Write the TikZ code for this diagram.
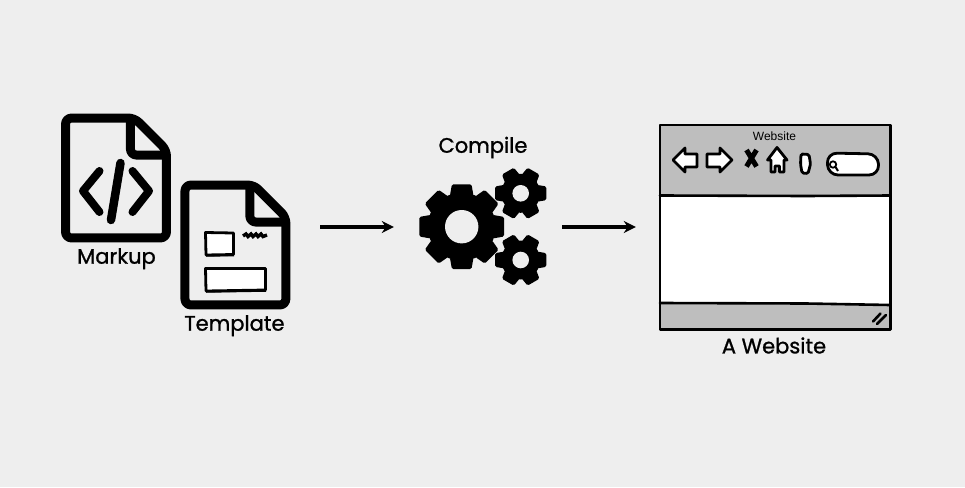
\documentclass[tikz,border=0pt]{standalone}
\usepackage{fontspec}
\setmainfont{Poppins}
\newfontfamily\labelfont[FakeBold=1.1]{Poppins}
\newfontfamily\smallfont{Liberation Sans}
\usetikzlibrary{arrows.meta,positioning}

\definecolor{paper}{HTML}{EEEEEE}
\definecolor{panel}{HTML}{BEBEBE}

\tikzset{
	docbox/.style={minimum width=100.5pt,minimum height=119.5pt,inner sep=0pt},
	docline/.style={line width=9pt,rounded corners=6pt,line join=round},
	caption/.style={inner sep=0pt,font=\labelfont\fontsize{21}{25}\selectfont},
	sketch/.style={line width=2.6pt,line join=round,line cap=round},
	icon/.style={sketch,line width=2.8pt,fill=white},
	flow/.style={->,line width=3.2pt}
}

% outline of a page with a folded corner, on top of a named box
\newcommand{\docicon}[1]{
	\draw[docline] ([xshift=-32pt]#1.north east) -- (#1.north west) -- (#1.south west)
		-- (#1.south east) -- ([yshift=-32pt]#1.north east) -- cycle;
	\draw[docline] ([xshift=-36pt]#1.north east) -- ([xshift=-36pt,yshift=-37pt]#1.north east)
		-- ([yshift=-37pt]#1.north east);
}

% centre, teeth, outer radius, root radius, hole radius, half tip and half base angle
\newcommand{\gearicon}[7]{
	\fill (#1) circle (#4);
	\pgfmathsetmacro{\gearstep}{360/#2}
	\foreach \i in {1,...,#2} {
		\pgfmathsetmacro{\gearangle}{\i*\gearstep}
		\fill[rounded corners=1.5pt,shift={(#1)},rotate=\gearangle]
			(-#7:#4-1) -- (-#6:#3) -- (#6:#3) -- (#7:#4-1) -- cycle;
	}
	\fill[paper] (#1) circle (#5);
}

\begin{document}
\begin{tikzpicture}[x=1pt,y=-1pt,>={Stealth[length=12pt,width=12pt]}]
	\useasboundingbox (0,0) rectangle (965,487);
	\fill[paper] (0,0) rectangle (965,487);

	\node[docbox] (markup) at (116,178) {};
	\node[docbox] (template) [right=18.5pt of markup,yshift=-67pt] {};
	\node[minimum width=128pt,minimum height=118pt,inner sep=0pt] (gears) at (483,227) {};
	\node[minimum width=230pt,minimum height=204pt,inner sep=0pt] (browser) at (775,227) {};

	\node[caption] (markuplabel) [below=10pt of markup,xshift=0.5pt] {Markup};
	\node[caption] (templatelabel) [below=10pt of template,xshift=-1pt] {Template};
	\node[caption] (compilelabel) at (483,147.5) {Compile};
	\node[caption] (browserlabel) [below=8pt of browser,xshift=-1pt] {A Website};

	\docicon{markup}
	\docicon{template}

	% the code sign
	\draw[line width=8pt,line cap=round,line join=round] (99.5,171) -- (83,191) -- (99.5,212);
	\draw[line width=8pt,line cap=round,line join=round] (132.5,171) -- (149,191) -- (132.5,212);
	\draw[line width=8.5pt,line cap=round] (120.5,163) -- (111,220);

	% the layout sketch
	\draw[icon] (205.5,232.5) -- (233.5,233) -- (233.5,254.5) -- (206,255) -- cycle;
	\draw[line width=1.5pt] (206,256) -- (234,255.5);
	\draw[icon] (205.5,268.5) -- (265.5,268.5) -- (265.5,290) -- (206,291) -- cycle;
	\draw[line width=1.5pt] (206,292) -- (266,291);
	\draw[line width=3.4pt] (243,236) -- (246,234) -- (248,236.5) -- (251,234) -- (253,236.5)
		-- (256,234) -- (258,236.5) -- (261,234) -- (263,236.5) -- (267,235);

	\gearicon{461.7,226.7}{8}{43.5}{34}{16.7}{13}{21}
	\gearicon{520.7,193.3}{6}{26.5}{19.5}{8.3}{15}{27}
	\gearicon{520.7,260}{6}{26.5}{19.5}{8.3}{15}{27}

	% window
	\fill[panel] (browser.north west) rectangle (browser.south east);
	\fill[white] (660,195.5) -- (890,195.5) -- (890,305) -- (660,303) -- cycle;
	\draw[sketch] (browser.north west) rectangle (browser.south east);
	\draw[sketch] (660,195.5) -- (806,196) -- (890,195.5);
	\draw[sketch] (660,303) -- (806,303.5) -- (890,305);
	\node[inner sep=0pt,font=\smallfont\fontsize{12}{14}\selectfont] (browsertitle) at (774.5,136.5) {Website};

	% toolbar
	\draw[icon] (673,160) -- (685,148) -- (685,154) -- (697,154) -- (697,167) -- (685,167) -- (685,172) -- cycle;
	\draw[icon] (732,160) -- (720,148) -- (720,154) -- (707,154) -- (707,167) -- (720,167) -- (720,172) -- cycle;
	\draw[line width=5pt] (746.5,150) -- (756.5,166.5) (756.5,150) -- (746.5,166.5);
	\draw[icon] (777,147.5) -- (787,160) -- (784,160) -- (784,172) -- (779.5,172) -- (779.5,166) -- (775,166)
		-- (775,172) -- (771,172) -- (771,160) -- (767.5,160) -- cycle;
	\draw[icon,rounded corners=1.5pt] (801,154) -- (809,154.5) -- (810.5,164) -- (808,173.5) -- (802,173) -- (800.5,164) -- cycle;
	\draw[icon,rounded corners=10pt] (827,153) -- (878,154) -- (879,175) -- (828,175) -- cycle;
	\draw[line width=1.8pt] (833,164.5) circle (3.2);
	\draw[line width=2pt] (835.5,167) -- (838,171);

	% grip
	\draw[sketch] (873,321.5) -- (880.5,313.5);
	\draw[sketch] (877,324) -- (886,315);

	\draw[flow] ([xshift=34.5pt]template.east |- gears.center) -- ([xshift=-25pt]gears.west);
	\draw[flow] ([xshift=15pt]gears.east) -- ([xshift=-24pt]browser.west);
\end{tikzpicture}
\end{document}
